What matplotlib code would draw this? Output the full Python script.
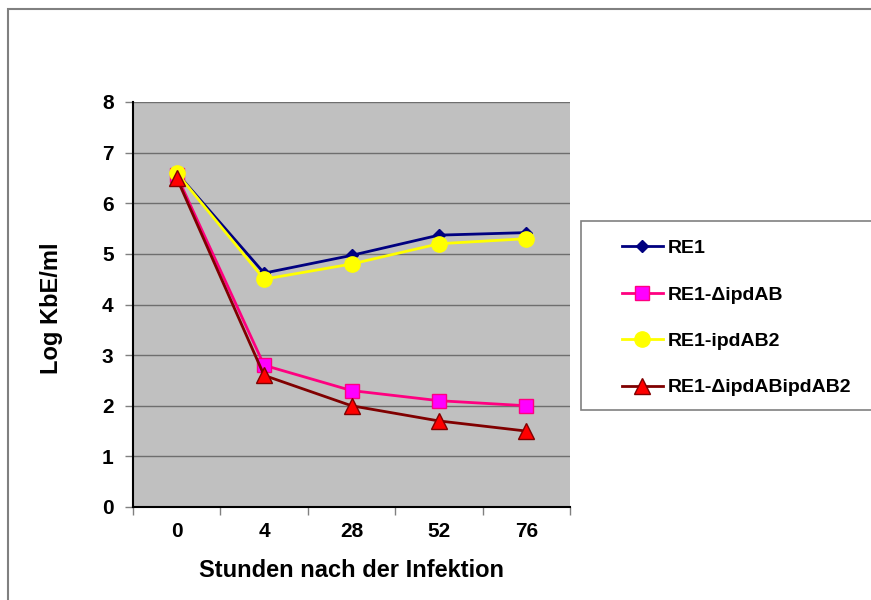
import matplotlib
matplotlib.use("Agg")
import matplotlib.pyplot as plt
from matplotlib.patches import Rectangle

categories = ["0", "4", "28", "52", "76"]
re1 = [6.6, 4.62, 4.97, 5.37, 5.42]
re1_d_ipdab = [6.55, 2.8, 2.3, 2.1, 2.0]
re1_ipdab2 = [6.6, 4.5, 4.8, 5.2, 5.3]
re1_d_ipdab_ipdab2 = [6.5, 2.6, 2.0, 1.7, 1.5]
series_names = ["RE1", "RE1-ΔipdAB", "RE1-ipdAB2", "RE1-ΔipdABipdAB2"]
y_ticks = [0, 1, 2, 3, 4, 5, 6, 7, 8]

plt.rcParams['font.family'] = ['Liberation Sans', 'DejaVu Sans']
plt.rcParams['font.weight'] = 'bold'

W, H = 871, 600
fig = plt.figure(figsize=(W / 100, H / 100), dpi=100)
fig.patch.set_facecolor('white')

# outer frame
fig.patches.append(Rectangle((8 / W, -0.1), 1.2, (H - 9) / H + 0.1, transform=fig.transFigure,
                             fill=False, edgecolor='#808080', linewidth=1.5))

ax = fig.add_axes([133 / W, (H - 507) / H, (570 - 133) / W, (507 - 102) / H])
ax.set_facecolor('#C0C0C0')
x = list(range(len(categories)))

styles = [
    dict(color='#000080', marker='D', markersize=6, markerfacecolor='#000080', markeredgecolor='#000080'),
    dict(color='#FF0080', marker='s', markersize=10, markerfacecolor='#FF00FF', markeredgecolor='#FF0080'),
    dict(color='#FFFF00', marker='o', markersize=11, markerfacecolor='#FFFF00', markeredgecolor='#FFFF00'),
    dict(color='#800000', marker='^', markersize=11, markerfacecolor='#FF0000', markeredgecolor='#800000'),
]
data = [re1, re1_d_ipdab, re1_ipdab2, re1_d_ipdab_ipdab2]
handles = []
for vals, st, name in zip(data, styles, series_names):
    h, = ax.plot(x, vals, linewidth=2, label=name, zorder=3, **st)
    handles.append(h)

ax.set_xlim(-0.5, len(categories) - 0.5)
ax.set_ylim(0, 8)
ax.set_yticks(y_ticks)
ax.set_yticklabels([str(t) for t in y_ticks], fontsize=15, fontweight='bold')
ax.set_xticks(x)
ax.set_xticklabels(categories, fontsize=15, fontweight='bold')
ax.tick_params(axis='x', length=0, pad=11)
ax.tick_params(axis='y', length=6, color='#808080', width=1, pad=8)
ax.set_xticks([i - 0.5 for i in range(len(categories) + 1)], minor=True)
ax.tick_params(axis='x', which='minor', length=6, color='#808080', width=1)
ax.yaxis.grid(True, color='#6e6e6e', linewidth=1)
ax.set_axisbelow(True)
for s in ['top', 'right']:
    ax.spines[s].set_visible(False)
ax.spines['left'].set_color('black')
ax.spines['bottom'].set_color('black')
ax.spines['left'].set_linewidth(1.5)
ax.spines['bottom'].set_linewidth(1.5)

ax.set_xlabel("Stunden nach der Infektion", fontsize=17, fontweight='bold', labelpad=13)
ax.set_ylabel("Log KbE/ml", fontsize=17, fontweight='bold', labelpad=0)
ax.yaxis.set_label_coords((63 - 133) / (570 - 133), (507 - 308) / (507 - 102))

# legend box
fig.patches.append(Rectangle((581 / W, (H - 410) / H), 1.0, (410 - 221) / H, transform=fig.transFigure,
                             fill=True, facecolor='white', edgecolor='#808080', linewidth=1.2))
leg = fig.legend(handles=handles, loc='upper left', bbox_to_anchor=(606 / W, (H - 224) / H),
                 frameon=False, handlelength=2.15, labelspacing=1.48, handletextpad=0.2,
                 borderpad=0.3, prop={'weight': 'bold', 'size': 14})

fig.savefig("out.png", dpi=100)
